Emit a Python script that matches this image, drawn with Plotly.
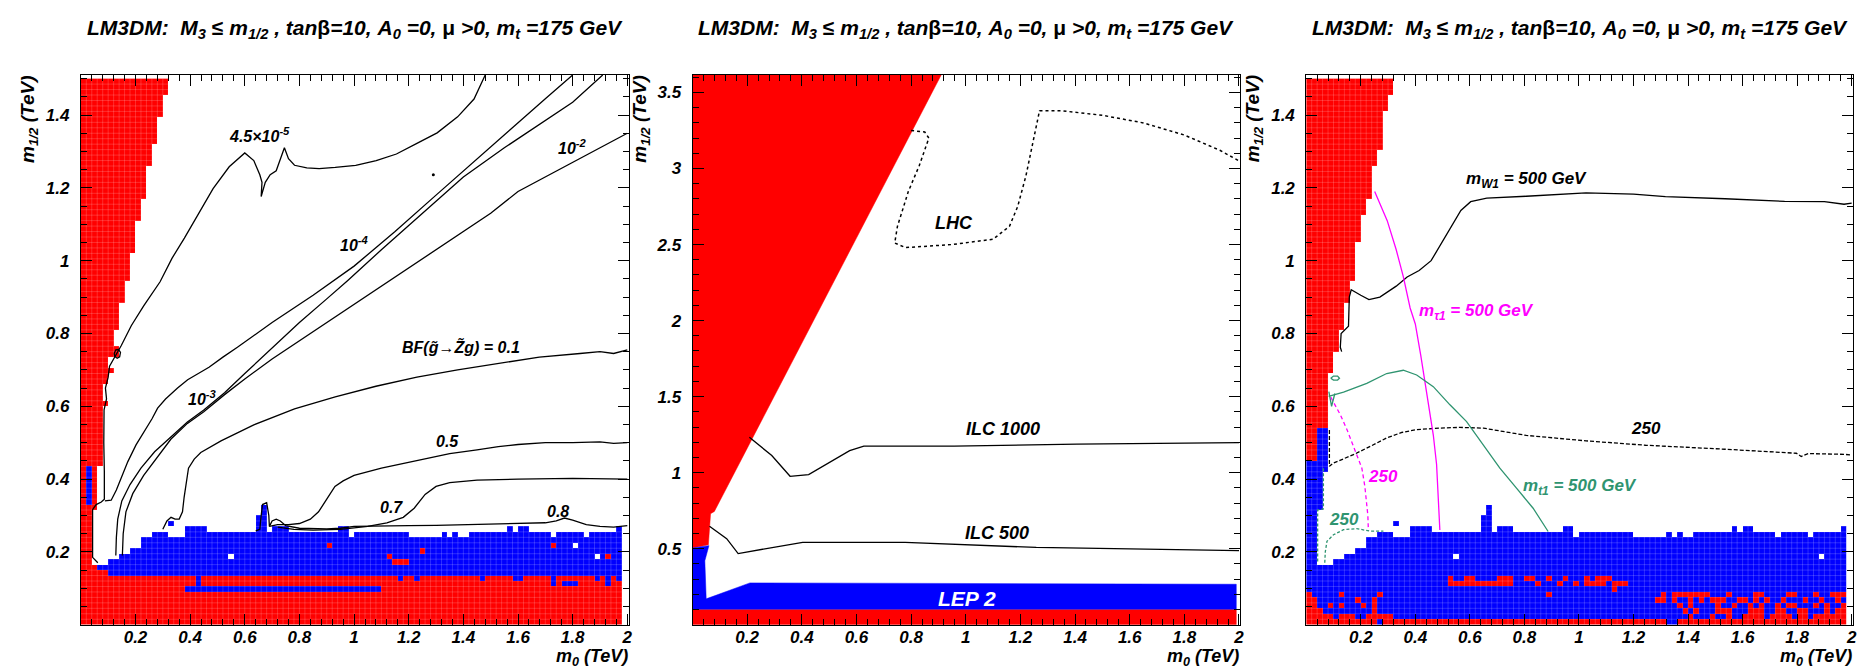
import numpy as np
import plotly.graph_objects as go

FONT = "Liberation Sans, Arial, Helvetica, sans-serif"
W, H = 1869, 668

# ---------------- scan grid geometry ----------------
NX, NY = 99, 100            # m0 columns of 0.02 TeV, m1/2 rows of 0.015 TeV
DX, DY = 0.02, 0.015
XC = [DX / 2 + DX * i for i in range(NX)]
YC = [DY / 2 + DY * j for j in range(NY)]

# red (theory excluded) cells counted from the left edge, per m1/2 row
RED_LEFT_P1 = [0, 0, 0, 0, 0, 0, 0, 0, 0,
               5, 3,
               2, 2, 2, 2, 2, 2, 2, 2, 2, 2,
               3, 3, 3, 3, 3, 3, 3, 3,
               4, 4, 4, 4, 4, 4, 4, 4, 4, 4, 4,
               5, 4, 4, 4, 5, 5, 6, 5, 5, 7, 7, 6, 6, 6,
               7, 7, 7, 7, 7,
               8, 8, 8, 8,
               9, 9, 9, 9, 9,
               10, 10, 10, 10, 10, 10,
               11, 11, 11, 11,
               12, 12, 12, 12, 12, 12,
               13, 13, 13, 13,
               14, 14, 14, 14, 14,
               15, 15, 15, 15,
               16, 16, 16]
RED_LEFT_P3 = [0, 0, 0, 0, 0, 0, 0, 0, 0, 0, 0, 0, 0, 0, 0,
               0, 0, 0, 0, 0, 0, 0, 0, 0, 0, 0, 0, 0, 0, 0,
               2, 2, 2, 2, 2, 2,
               4, 4, 4, 4, 4, 4, 4, 4, 4, 4,
               5, 5, 5, 5,
               6, 6, 6, 6,
               7, 7, 7, 7, 7,
               8, 8, 8, 8,
               9, 9, 9, 9, 9, 9, 9,
               10, 10, 10, 10, 10,
               11, 11, 11,
               12, 12, 12, 12, 12, 12,
               13, 13, 13,
               14, 14, 14, 14, 14, 14, 14,
               15, 15, 15,
               16, 16, 16]

# top row of the blue (LEP2 excluded) band in each m0 column
BAND_TOP = [10, 10, 10, 10, 10, 11, 11, 12, 12, 13, 13, 15, 15, 16, 16, 16, 15, 15, 15,
            17, 17, 17, 17, 16, 16, 16, 16, 16, 16, 16, 16, 16, 19, 21, 16, 17, 17, 17,
            16, 16, 16, 16, 16, 16, 16, 16, 16, 17, 17, 15,
            16, 16, 16, 16, 16, 16, 16, 16, 16, 16, 15, 15, 15, 15, 15, 15, 16, 15, 16,
            15, 15, 16, 16, 16, 16, 16, 16, 16, 17, 16, 17, 17, 16, 16, 16, 16, 15,
            16, 16, 16, 16, 16, 15, 16, 16, 16, 16, 16, 17]
BAND_BOTTOM_P1 = 9

# rectangles of cells (col0, col1, row0, row1), inclusive
BLUE_RECTS_P1 = [(1, 1, 22, 28), (16, 16, 18, 18), (19, 54, 6, 6), (21, 21, 7, 8),
                 (58, 58, 8, 8), (61, 61, 8, 8), (73, 73, 8, 8), (79, 80, 8, 8),
                 (86, 86, 7, 8), (88, 90, 7, 7), (94, 94, 8, 8), (96, 96, 7, 8), (98, 98, 8, 8)]
RED_RECTS_P1 = [(45, 45, 14, 14), (56, 56, 12, 12), (57, 59, 11, 11), (62, 62, 13, 13),
                (86, 86, 14, 14), (96, 96, 12, 12)]
WHITE_RECTS_P1 = [(27, 27, 12, 12), (90, 90, 14, 14), (94, 94, 12, 12)]

BLUE_RECTS_P3 = [(0, 1, 11, 29), (2, 2, 21, 29), (3, 3, 28, 29), (2, 3, 30, 35), (16, 16, 18, 18)]
RED_RECTS_P3 = [(0, 0, 0, 5), (1, 1, 0, 4), (2, 2, 0, 2), (3, 3, 0, 1), (4, 4, 0, 1), (4, 4, 3, 3),
                (5, 5, 0, 0), (6, 6, 0, 1), (6, 6, 3, 3), (6, 6, 5, 5), (7, 8, 0, 1), (9, 10, 0, 0),
                (9, 9, 4, 4), (10, 10, 3, 3), (11, 11, 0, 1), (12, 12, 0, 4), (13, 13, 5, 5),
                (13, 13, 1, 1), (14, 15, 0, 1), (16, 65, 0, 0), (68, 98, 0, 0),
                (26, 26, 7, 8), (27, 28, 7, 7), (29, 30, 7, 8), (31, 34, 7, 7), (35, 37, 7, 8),
                (40, 41, 8, 8), (42, 42, 7, 7), (44, 44, 8, 8), (44, 44, 5, 5), (46, 46, 7, 7),
                (47, 47, 8, 8), (49, 49, 7, 7), (51, 51, 7, 8), (52, 54, 7, 7), (53, 55, 8, 8),
                (56, 56, 6, 7), (57, 58, 7, 7),
                (65, 65, 5, 5), (67, 73, 5, 5), (77, 77, 5, 5), (82, 83, 5, 5), (88, 89, 5, 5),
                (93, 93, 5, 5), (96, 98, 5, 5),
                (64, 65, 4, 4), (67, 67, 4, 4), (70, 70, 4, 4), (72, 72, 4, 4), (74, 76, 4, 4),
                (79, 80, 4, 4), (82, 82, 4, 4), (84, 84, 4, 4), (87, 87, 4, 4), (91, 91, 4, 4),
                (94, 94, 4, 4), (97, 97, 4, 4),
                (68, 68, 3, 3), (70, 70, 3, 3), (75, 75, 3, 3), (78, 78, 3, 3), (81, 81, 3, 3),
                (83, 83, 3, 3), (86, 86, 3, 3), (88, 89, 3, 3), (93, 93, 3, 3), (95, 95, 3, 3),
                (98, 98, 3, 3),
                (69, 69, 2, 2), (71, 71, 2, 2), (75, 77, 2, 2), (81, 83, 2, 2), (86, 87, 2, 2),
                (90, 91, 2, 2), (95, 95, 2, 2), (97, 98, 2, 2),
                (70, 70, 1, 1), (74, 74, 1, 1), (77, 77, 1, 1), (80, 83, 1, 1), (85, 88, 1, 1),
                (90, 91, 1, 1), (93, 98, 1, 1)]
WHITE_RECTS_P3 = [(27, 27, 12, 12), (94, 94, 12, 12)]

# ---------------- panel 1 contours: BF(gluino -> Z1 g) ----------------
C45_X = [0.062, 0.043, 0.043, 0.056, 0.075, 0.086, 0.086, 0.084, 0.085, 0.094, 0.09, 0.1, 0.105, 0.12,
         0.148, 0.185, 0.23, 0.29, 0.334, 0.379, 0.439, 0.484, 0.543, 0.6, 0.633, 0.655, 0.663, 0.66,
         0.675, 0.693, 0.715, 0.73, 0.745, 0.76, 0.782, 0.827, 0.872, 0.931, 1.006, 1.081, 1.155,
         1.23, 1.304, 1.379, 1.439, 1.48]
C45_Y = [0.17, 0.185, 0.316, 0.33, 0.337, 0.345, 0.42, 0.5, 0.59, 0.62, 0.65, 0.68, 0.71, 0.73,
         0.767, 0.822, 0.876, 0.942, 1.007, 1.062, 1.138, 1.198, 1.258, 1.296, 1.275, 1.236, 1.215,
         1.176, 1.215, 1.236, 1.247, 1.28, 1.31, 1.28, 1.262, 1.255, 1.253, 1.256, 1.262, 1.275,
         1.293, 1.322, 1.351, 1.395, 1.444, 1.51]
C4_X = [0.088, 0.111, 0.13, 0.147, 0.172, 0.202, 0.233, 0.26, 0.281, 0.31, 0.354, 0.391, 0.43, 0.469,
        0.52, 0.573, 0.7, 0.85, 1.0, 1.15, 1.3, 1.45, 1.6, 1.7, 1.8]
C4_Y = [0.34, 0.342, 0.37, 0.4, 0.448, 0.494, 0.531, 0.565, 0.595, 0.62, 0.65, 0.673, 0.69, 0.707,
        0.735, 0.762, 0.83, 0.905, 0.985, 1.08, 1.18, 1.28, 1.38, 1.445, 1.51]
C3_X = [0.128, 0.13, 0.135, 0.15, 0.18, 0.22, 0.27, 0.33, 0.39, 0.45, 0.526, 0.6, 0.7, 0.8, 0.9,
        0.976, 1.1, 1.25, 1.4, 1.55, 1.7, 1.8, 1.91]
C3_Y = [0.19, 0.24, 0.29, 0.34, 0.385, 0.43, 0.475, 0.515, 0.557, 0.59, 0.637, 0.69, 0.76, 0.83,
        0.895, 0.945, 1.03, 1.13, 1.23, 1.31, 1.385, 1.435, 1.51]
C2_X = [0.152, 0.155, 0.165, 0.19, 0.23, 0.28, 0.33, 0.39, 0.45, 0.526, 0.6, 0.7, 0.8, 0.9, 1.0,
        1.1, 1.2, 1.3, 1.4, 1.5, 1.6, 1.7, 1.8, 1.9, 2.0]
C2_Y = [0.19, 0.25, 0.31, 0.36, 0.41, 0.46, 0.51, 0.553, 0.585, 0.632, 0.675, 0.73, 0.78, 0.83, 0.88,
        0.93, 0.98, 1.03, 1.08, 1.13, 1.19, 1.23, 1.27, 1.31, 1.35]
C01_X = [0.30, 0.315, 0.33, 0.345, 0.36, 0.372, 0.378, 0.385, 0.394, 0.415, 0.439, 0.513, 0.633,
         0.782, 0.931, 1.08, 1.23, 1.379, 1.528, 1.678, 1.827, 1.9, 1.95, 2.0]
C01_Y = [0.262, 0.285, 0.295, 0.29, 0.29, 0.31, 0.35, 0.39, 0.43, 0.455, 0.473, 0.505, 0.549,
         0.593, 0.626, 0.655, 0.68, 0.7, 0.718, 0.735, 0.745, 0.75, 0.745, 0.755]
C05_X = [0.69, 0.72, 0.76, 0.8, 0.84, 0.87, 0.9, 0.93, 0.96, 1.0, 1.1, 1.23, 1.35, 1.45, 1.528,
         1.6, 1.7, 1.8, 1.9, 1.95, 2.0]
C05_Y = [0.27, 0.275, 0.275, 0.278, 0.29, 0.31, 0.345, 0.38, 0.395, 0.41, 0.43, 0.451, 0.47, 0.48,
         0.489, 0.495, 0.5, 0.5, 0.502, 0.498, 0.5]
C07_X = [0.72, 0.78, 0.85, 0.95, 1.05, 1.12, 1.18, 1.22, 1.26, 1.3, 1.35, 1.45, 1.6, 1.8, 2.0]
C07_Y = [0.268, 0.262, 0.26, 0.262, 0.27, 0.28, 0.295, 0.32, 0.358, 0.38, 0.39, 0.397, 0.4, 0.402, 0.4]
C08_X = [0.64, 0.655, 0.66, 0.665, 0.68, 0.688, 0.69, 0.7, 0.715, 0.73, 0.75, 0.8, 0.9, 0.95, 1.0,
         1.1, 1.2, 1.3, 1.4, 1.5, 1.6, 1.7, 1.74, 1.77, 1.8, 1.85, 1.9, 1.95, 2.0]
C08_Y = [0.258, 0.262, 0.3, 0.33, 0.335, 0.3, 0.27, 0.285, 0.29, 0.285, 0.272, 0.265, 0.263, 0.265,
         0.27, 0.27, 0.272, 0.273, 0.275, 0.276, 0.278, 0.28, 0.285, 0.293, 0.287, 0.275, 0.27,
         0.268, 0.272]
LOOP1_X = [0.122, 0.128, 0.138, 0.145, 0.142, 0.133, 0.124, 0.122]
LOOP1_Y = [0.745, 0.755, 0.756, 0.748, 0.736, 0.732, 0.737, 0.745]
DOT1 = (1.29, 1.236)

# ---------------- panel 2: reach ----------------
RED2_X = [0, 0.91, 0.08, 0.066, 0.058, 0]
RED2_Y = [3.615, 3.615, 0.745, 0.73, 0.525, 0.505]
RED2_BOTTOM_X = [0, 1.99, 1.99, 0]
RED2_BOTTOM_Y = [0, 0, 0.1, 0.1]
LEP2_X = [0, 0, 0.06, 0.045, 0.05, 0.21, 1.99, 1.99]
LEP2_Y = [0.1, 0.505, 0.52, 0.42, 0.17, 0.275, 0.266, 0.1]
ILC1000_X = [0.208, 0.29, 0.357, 0.425, 0.575, 0.627, 0.957, 1.407, 2.0]
ILC1000_Y = [1.232, 1.113, 0.976, 0.987, 1.145, 1.174, 1.174, 1.187, 1.197]
ILC500_X = [0.062, 0.125, 0.167, 0.403, 0.778, 1.258, 2.0]
ILC500_Y = [0.647, 0.566, 0.468, 0.542, 0.542, 0.508, 0.487]
LHC_X = [0.80, 0.85, 0.865, 0.83, 0.79, 0.75, 0.74, 0.78, 0.95, 1.1, 1.16, 1.19, 1.22, 1.25, 1.27,
         1.35, 1.5, 1.65, 1.8, 1.93, 2.0]
LHC_Y = [3.25, 3.24, 3.2, 3.02, 2.85, 2.62, 2.51, 2.48, 2.50, 2.535, 2.62, 2.75, 2.95, 3.2, 3.38,
         3.38, 3.35, 3.3, 3.22, 3.12, 3.05]

# ---------------- panel 3: mass contours ----------------
MW500_X = [0.13, 0.125, 0.128, 0.14, 0.155, 0.158, 0.165, 0.2, 0.23, 0.27, 0.33, 0.37, 0.414, 0.458,
           0.501, 0.545, 0.567, 0.603, 0.662, 0.807, 1.026, 1.2, 1.317, 1.536, 1.754, 1.9, 1.972, 2.0]
MW500_Y = [0.75, 0.762, 0.8, 0.81, 0.82, 0.9, 0.92, 0.905, 0.893, 0.9, 0.93, 0.955, 0.973, 1.0,
           1.055, 1.11, 1.138, 1.162, 1.172, 1.177, 1.186, 1.183, 1.176, 1.17, 1.163, 1.162, 1.155,
           1.158]
MW250_X = [0.085, 0.085, 0.1, 0.173, 0.235, 0.295, 0.35, 0.405, 0.487, 0.563, 0.65, 0.807, 1.026,
           1.244, 1.536, 1.797, 1.815, 1.826, 1.84, 1.972, 2.0]
MW250_Y = [0.535, 0.435, 0.444, 0.467, 0.49, 0.513, 0.528, 0.536, 0.54, 0.542, 0.54, 0.52, 0.505,
           0.493, 0.482, 0.471, 0.462, 0.465, 0.47, 0.468, 0.466]
MSTAU500_X = [0.251, 0.297, 0.33, 0.356, 0.381, 0.4, 0.42, 0.435, 0.45, 0.466, 0.478, 0.484, 0.488, 0.49]
MSTAU500_Y = [1.19, 1.11, 1.03, 0.956, 0.87, 0.826, 0.74, 0.67, 0.6, 0.521, 0.44, 0.366, 0.3, 0.26]
MSTAU250_X = [0.09, 0.125, 0.15, 0.167, 0.185, 0.204, 0.215, 0.222, 0.226, 0.228]
MSTAU250_Y = [0.625, 0.577, 0.535, 0.503, 0.465, 0.43, 0.38, 0.339, 0.3, 0.258]
MSTOP500_X = [0.082, 0.137, 0.222, 0.295, 0.356, 0.405, 0.466, 0.527, 0.588, 0.649, 0.71, 0.771,
              0.832, 0.887]
MSTOP500_Y = [0.627, 0.639, 0.663, 0.69, 0.699, 0.686, 0.654, 0.604, 0.558, 0.494, 0.43, 0.375,
              0.32, 0.256]
MSTOP250A_X = [0.063, 0.063, 0.042, 0.042]
MSTOP250A_Y = [0.43, 0.318, 0.315, 0.17]
MSTOP250B_X = [0.068, 0.07, 0.076, 0.1, 0.137, 0.185, 0.234, 0.283]
MSTOP250B_Y = [0.17, 0.2, 0.229, 0.247, 0.261, 0.264, 0.257, 0.257]
STOPLOOP_X = [0.09, 0.1, 0.115, 0.122, 0.115, 0.1, 0.09]
STOPLOOP_Y = [0.677, 0.683, 0.683, 0.677, 0.672, 0.672, 0.677]
STOPV_X = [0.083, 0.093, 0.105]
STOPV_Y = [0.64, 0.6, 0.635]

RED, BLUE = "#ff0000", "#0000ff"
MAGENTA, GREEN = "#ff00ff", "#2f9470"

# ---------------- build the cell maps ----------------
def paint(g, rects, v):
    for c0, c1, r0, r1 in rects:
        for r in range(r0, r1 + 1):
            for c in range(c0, c1 + 1):
                g[r][c] = v


def grid_p1():
    g = np.full((NY, NX), np.nan)
    for c in range(NX):
        g[:BAND_BOTTOM_P1, c] = 1
        g[BAND_BOTTOM_P1:BAND_TOP[c] + 1, c] = 2
    for r in range(NY):
        if RED_LEFT_P1[r]:
            g[r, :RED_LEFT_P1[r]] = 1
    paint(g, BLUE_RECTS_P1, 2)
    paint(g, RED_RECTS_P1, 1)
    paint(g, WHITE_RECTS_P1, np.nan)
    return g


def grid_p3():
    g = np.full((NY, NX), np.nan)
    for c in range(NX):
        g[:BAND_TOP[c] + 1, c] = 2
    paint(g, BLUE_RECTS_P3, 2)
    for r in range(NY):
        if RED_LEFT_P3[r]:
            g[r, :RED_LEFT_P3[r]] = 1
    paint(g, RED_RECTS_P3, 1)
    paint(g, WHITE_RECTS_P3, np.nan)
    return g


CS = [[0, RED], [0.5, RED], [0.5, BLUE], [1, BLUE]]


def heat(g, xa, ya):
    z = [[None if np.isnan(v) else float(v) for v in row] for row in g]
    return go.Heatmap(x=XC, y=YC, z=z, zmin=1, zmax=2, colorscale=CS, showscale=False,
                      hoverinfo="skip", xaxis=xa, yaxis=ya)


def cell_grid(xa, ya):
    # faint cell borders of the scan (drawn on top of the coloured cells)
    xs, ys = [], []
    for i in range(1, NX):
        xs += [DX * i, DX * i, None]
        ys += [0, DY * NY, None]
    for j in range(1, NY):
        xs += [0, DX * NX, None]
        ys += [DY * j, DY * j, None]
    return go.Scatter(x=xs, y=ys, mode="lines", xaxis=xa, yaxis=ya, hoverinfo="skip",
                      line=dict(color="rgba(255,255,255,0.22)", width=0.8), showlegend=False)


def line(x, y, xa, ya, color="black", width=1.3, dash="solid"):
    return go.Scatter(x=x, y=y, mode="lines", xaxis=xa, yaxis=ya, hoverinfo="skip",
                      line=dict(color=color, width=width, dash=dash), showlegend=False)


def poly(x, y, xa, ya, color):
    return go.Scatter(x=x, y=y, mode="lines", fill="toself", fillcolor=color, xaxis=xa, yaxis=ya,
                      line=dict(color=color, width=0.5), hoverinfo="skip", showlegend=False)


fig = go.Figure()
# panel 1
fig.add_trace(heat(grid_p1(), "x", "y"))
fig.add_trace(cell_grid("x", "y"))
for xs, ys in [(C45_X, C45_Y), (C4_X, C4_Y), (C3_X, C3_Y), (C2_X, C2_Y), (C01_X, C01_Y),
               (C05_X, C05_Y), (C07_X, C07_Y), (C08_X, C08_Y), (LOOP1_X, LOOP1_Y)]:
    fig.add_trace(line(xs, ys, "x", "y"))
fig.add_trace(go.Scatter(x=[DOT1[0]], y=[DOT1[1]], mode="markers", marker=dict(color="black", size=3),
                         xaxis="x", yaxis="y", showlegend=False, hoverinfo="skip"))
# panel 2
fig.add_trace(poly(RED2_X, RED2_Y, "x2", "y2", RED))
fig.add_trace(poly(RED2_BOTTOM_X, RED2_BOTTOM_Y, "x2", "y2", RED))
fig.add_trace(poly(LEP2_X, LEP2_Y, "x2", "y2", BLUE))
fig.add_trace(line(ILC1000_X, ILC1000_Y, "x2", "y2"))
fig.add_trace(line(ILC500_X, ILC500_Y, "x2", "y2"))
fig.add_trace(line(LHC_X, LHC_Y, "x2", "y2", width=1.5, dash="dot"))
# panel 3
fig.add_trace(heat(grid_p3(), "x3", "y3"))
fig.add_trace(cell_grid("x3", "y3"))
fig.add_trace(line(MW500_X, MW500_Y, "x3", "y3"))
fig.add_trace(line(MW250_X, MW250_Y, "x3", "y3", dash="4px,2px"))
fig.add_trace(line(MSTAU500_X, MSTAU500_Y, "x3", "y3", color=MAGENTA))
fig.add_trace(line(MSTAU250_X, MSTAU250_Y, "x3", "y3", color=MAGENTA, dash="4px,3px"))
fig.add_trace(line(MSTOP500_X, MSTOP500_Y, "x3", "y3", color=GREEN))
fig.add_trace(line(MSTOP250A_X, MSTOP250A_Y, "x3", "y3", color=GREEN, dash="3px,2px"))
fig.add_trace(line(MSTOP250B_X, MSTOP250B_Y, "x3", "y3", color=GREEN, dash="3px,2px"))
fig.add_trace(line(STOPLOOP_X, STOPLOOP_Y, "x3", "y3", color=GREEN))
fig.add_trace(line(STOPV_X, STOPV_Y, "x3", "y3", color=GREEN))

# ---------------- axes ----------------
XTICKS = [0.2, 0.4, 0.6, 0.8, 1.0, 1.2, 1.4, 1.6, 1.8, 2.0]
XTEXT = ["0.2", "0.4", "0.6", "0.8", "1", "1.2", "1.4", "1.6", "1.8", "2"]
Y13TICKS = [0.2, 0.4, 0.6, 0.8, 1.0, 1.2, 1.4]
Y13TEXT = ["0.2", "0.4", "0.6", "0.8", "1", "1.2", "1.4"]
Y2TICKS = [0.5, 1.0, 1.5, 2.0, 2.5, 3.0, 3.5]
Y2TEXT = ["0.5", "1", "1.5", "2", "2.5", "3", "3.5"]

PX = [(73, 622), (686, 1235), (1301, 1849)]
PY = (67, 616.7)
TICKFONT = dict(family=FONT, size=17, color="black", weight="bold", style="italic")


def axis(domain, rng, tv, tt, minor_dt, anchor, standoff):
    return dict(domain=domain, range=rng, tickvals=tv, ticktext=tt, ticks="inside", ticklen=11,
                tickwidth=1, tickcolor="black", mirror="allticks", showline=True, linecolor="black",
                linewidth=1, showgrid=False, zeroline=False, tickfont=TICKFONT, anchor=anchor,
                ticklabelstandoff=standoff,
                minor=dict(ticks="inside", ticklen=6, dtick=minor_dt, tick0=0, tickcolor="black",
                           tickwidth=1, showgrid=False))


ydom = [1 - PY[1] / H, 1 - PY[0] / H]
layout = dict(width=W, height=H, margin=dict(l=0, r=0, t=0, b=0), paper_bgcolor="white",
              plot_bgcolor="white", showlegend=False)
for k, (x0, x1) in enumerate(PX):
    s = "" if k == 0 else str(k + 1)
    layout["xaxis" + s] = axis([x0 / W, x1 / W], [0, 2.005], XTICKS, XTEXT, 0.04, "y" + s, -3)
    if k == 1:
        layout["yaxis" + s] = axis(ydom, [0, 3.615], Y2TICKS, Y2TEXT, 0.1, "x" + s, 7)
    else:
        layout["yaxis" + s] = axis(ydom, [0, 1.51], Y13TICKS, Y13TEXT, 0.05, "x" + s, 7)
fig.update_layout(**layout)

# ---------------- text ----------------
def ann(text, x, y, xa, ya, size=16, color="black", xanchor="center", yanchor="middle", **kw):
    fig.add_annotation(text=text, x=x, y=y, xref=xa, yref=ya, showarrow=False,
                       xanchor=xanchor, yanchor=yanchor,
                       font=dict(family=FONT, size=size, color=color, weight="bold", style="italic"),
                       **kw)


N = "<span style='font-style:normal'>"
TITLE = ("LM3DM:\u00a0 M<sub>3</sub> " + N + "\u2264</span> m<sub>1/2</sub> , tan" + N + "\u03b2</span>=10, "
         "A<sub>0</sub> =0, " + N + "\u03bc</span> >0, m<sub>t</sub> =175 GeV")
for k, (x0, x1) in enumerate(PX):
    ann(TITLE, (x0 + x1) / 2 / W, 1 - 21 / H, "paper", "paper", size=21)
    ann("m<sub>1/2</sub> (TeV)", (x0 - 52) / W, 1 - 111 / H, "paper", "paper", size=19, textangle=-90)
    ann("m<sub>0</sub> (TeV)", (x1 + 1) / W, 1 - 649 / H, "paper", "paper", size=18, xanchor="right")

# panel 1 labels
ann("4.5\u00d710<sup>-5</sup>", 0.655, 1.345, "x", "y")
ann("10<sup>-4</sup>", 1.0, 1.045, "x", "y")
ann("10<sup>-2</sup>", 1.8, 1.312, "x", "y")
ann("10<sup>-3</sup>", 0.447, 0.622, "x", "y")
ann("BF(g\u0303\u2192Z\u0303g) = 0.1", 1.39, 0.765, "x", "y")
ann("0.5", 1.342, 0.502, "x", "y")
ann("0.7", 1.136, 0.322, "x", "y")
ann("0.8", 1.745, 0.312, "x", "y")
# panel 2 labels
ann("LHC", 0.958, 2.64, "x2", "y2", size=18)
ann("ILC 1000", 1.135, 1.284, "x2", "y2", size=18)
ann("ILC 500", 1.115, 0.605, "x2", "y2", size=18)
ann("LEP 2", 1.003, 0.171, "x2", "y2", size=21, color="white")
# panel 3 labels
ann("m<sub>W1</sub> = 500 GeV", 0.807, 1.222, "x3", "y3", size=17)
ann("m<sub>\u03c41</sub> = 500 GeV", 0.625, 0.858, "x3", "y3", size=17, color=MAGENTA)
ann("m<sub>t1</sub> = 500 GeV", 1.004, 0.378, "x3", "y3", size=17, color=GREEN)
ann("250", 1.247, 0.538, "x3", "y3", size=17)
ann("250", 0.28, 0.408, "x3", "y3", size=17, color=MAGENTA)
ann("250", 0.137, 0.29, "x3", "y3", size=17, color=GREEN)

fig.write_html("out.html")
